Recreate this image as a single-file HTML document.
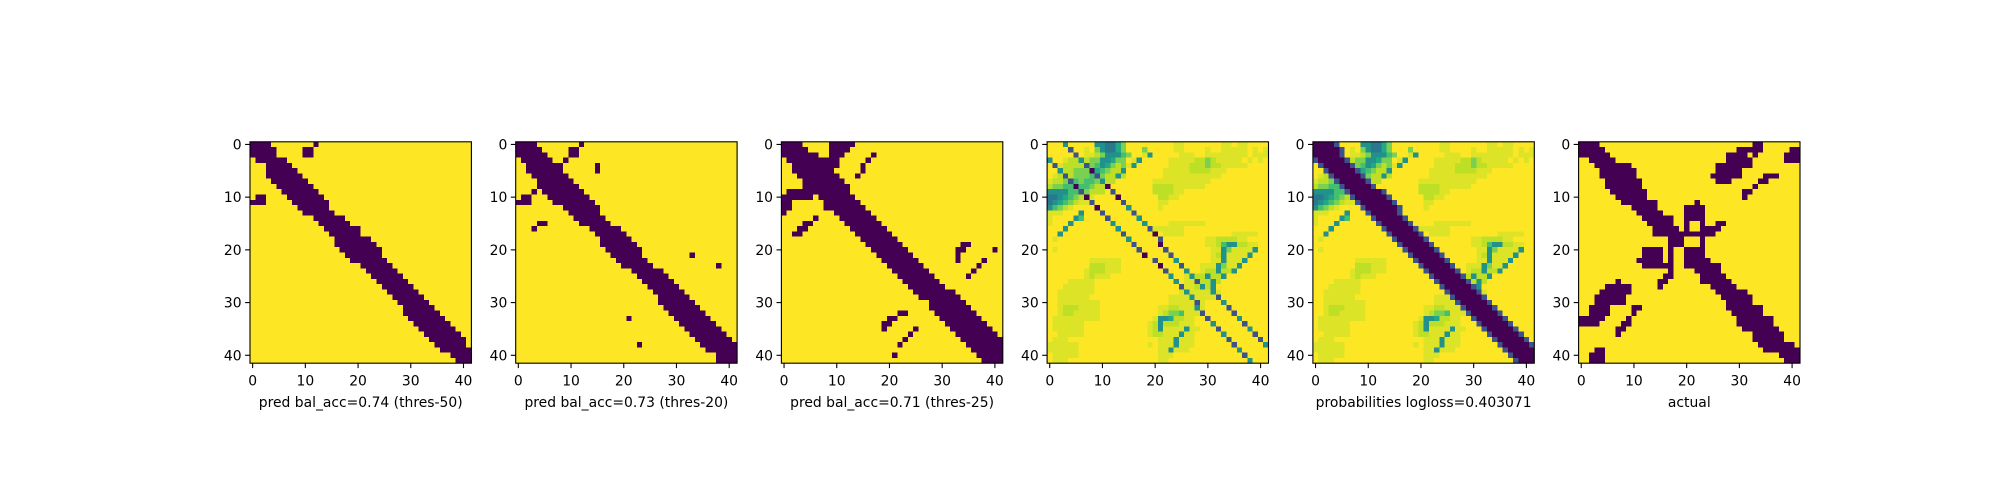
<!DOCTYPE html>
<html><head><meta charset="utf-8"><style>
html,body{margin:0;padding:0;background:#fff;}
svg{display:block;}
text{font-family:"DejaVu Sans","Liberation Sans",sans-serif;font-size:13.9px;fill:#000;}
</style></head><body>
<svg id="chart" width="2000" height="500" viewBox="0 0 2000 500" xmlns="http://www.w3.org/2000/svg"></svg>
<script>
// ---------- data ----------
const panelTitles = ["pred bal_acc=0.74 (thres-50)","pred bal_acc=0.73 (thres-20)","pred bal_acc=0.71 (thres-25)","probabilities logloss=0.403071","probabilities logloss=0.403071","actual"];
panelTitles[3] = "probabilities logloss=0.403071";
const xlabels = ["pred bal_acc=0.74 (thres-50)","pred bal_acc=0.73 (thres-20)","pred bal_acc=0.71 (thres-25)","","probabilities logloss=0.403071","actual"];
const tickValues = [0,10,20,30,40];
const tickLabels = ["0","10","20","30","40"];
const N = 42;

const p1Runs = [[[0,3],[12,12]],[[0,4],[10,11]],[[0,4],[10,11]],[[1,6]],[[3,7]],[[3,8]],[[3,9]],[[4,10]],[[5,11]],[[6,12]],[[7,13],[1,2]],[[8,14],[0,2]],[[9,14]],[[10,15]],[[12,17]],[[13,18]],[[14,20]],[[15,20]],[[16,22]],[[16,23]],[[17,24]],[[18,24]],[[19,25]],[[21,26]],[[22,27]],[[23,28]],[[24,29]],[[25,30]],[[26,31]],[[27,32]],[[28,33]],[[29,34]],[[29,35]],[[30,36]],[[31,37]],[[32,38]],[[33,39]],[[34,40]],[[35,40]],[[36,41]],[[38,41]],[[39,41]]];
const p2Runs = [[[0,3],[12,12]],[[0,4],[10,11]],[[0,5],[10,11]],[[1,6],[9,9]],[[2,8],[15,15]],[[2,8],[15,15]],[[3,9]],[[4,10]],[[4,11]],[[5,12],[3,3]],[[6,13],[1,2]],[[7,14],[0,2]],[[9,15]],[[10,15]],[[11,16]],[[12,17],[4,5]],[[14,19],[3,3]],[[15,20]],[[16,21]],[[16,22]],[[17,23]],[[18,23],[33,33]],[[19,24]],[[20,25],[38,38]],[[22,27]],[[23,28]],[[24,29]],[[25,30]],[[26,31]],[[27,32]],[[27,33]],[[28,34]],[[29,35]],[[30,36],[21,21]],[[31,37]],[[32,38]],[[33,39]],[[34,40]],[[35,41],[23,23]],[[36,41]],[[38,41]],[[38,41]]];
const p3Runs = [[[0,3],[9,13]],[[0,4],[9,12]],[[0,6],[9,11],[17,17]],[[1,10],[16,16]],[[2,10],[15,15]],[[2,9],[15,15]],[[3,10],[14,14]],[[4,11]],[[4,12]],[[1,12]],[[0,5],[7,13]],[[0,1],[8,14]],[[0,1],[8,15]],[[0,0],[10,16]],[[6,6],[11,17]],[[4,5],[12,18]],[[3,4],[13,19]],[[2,3],[14,20]],[[15,21]],[[16,22],[34,35]],[[17,23],[33,34],[40,40]],[[18,24],[33,33]],[[19,25],[33,33],[38,38]],[[20,26],[37,37]],[[21,27],[36,36]],[[22,28],[35,35]],[[23,29]],[[24,30]],[[25,32]],[[26,33]],[[28,34]],[[28,35]],[[22,23],[29,36]],[[20,21],[30,37]],[[19,20],[31,38]],[[19,19],[25,25],[32,39]],[[24,24],[33,40]],[[23,23],[34,41]],[[22,22],[35,41]],[[36,41]],[[21,21],[37,41]],[[38,41]]];
const p6Runs = [[[0,3],[33,34]],[[0,4],[30,34],[40,41]],[[0,5],[28,31],[33,33],[39,41]],[[2,6],[28,32],[39,41]],[[3,9],[26,32]],[[4,10],[26,30]],[[4,10],[25,30],[35,37]],[[5,11],[26,28],[34,35]],[[5,11],[33,33]],[[6,12],[31,32]],[[7,12],[31,31]],[[8,14],[22,22]],[[10,14],[20,23]],[[11,15],[20,23]],[[12,17],[20,23]],[[13,17],[20,20],[23,23],[26,27]],[[14,18],[20,20],[23,26]],[[14,25]],[[17,19],[23,23]],[[17,19],[23,23]],[[12,15],[17,17],[20,23]],[[12,15],[17,17],[20,23]],[[11,15],[17,17],[20,24]],[[12,17],[20,26]],[[17,17],[22,26]],[[16,17],[23,27]],[[7,7],[15,16],[23,28]],[[5,9],[15,15],[25,29]],[[4,9],[26,31]],[[3,8],[27,32]],[[3,8],[28,32]],[[2,5],[10,11],[28,34]],[[2,5],[10,10],[29,34]],[[0,4],[9,9],[30,36]],[[0,3],[8,9],[30,36]],[[7,8],[31,37]],[[7,7],[33,38]],[[33,38]],[[34,40]],[[3,4],[35,41]],[[2,4],[38,41]],[[2,4],[39,41]]];

// probability background (digit levels)
const levelValues = [0,0.25,0.4,0.5,0.6,0.7,0.8,0.9,0.95,1.0];
const probRows = [
"999899999332246999999999889999999889889",
"9999999896322469996999998899998998888898 98",
"999999988763335699839999988899888888889888 9",
"999877776633466983999998888877678888898989",
"998777766534676839999998888777677888889999",
"997776666456773999999988888777788899999999",
"987776665567737999999988888888888999999999",
"877665655677799999998888888888899999999999",
"766555556777999999997777888888999999999999",
"333355567779999999997777889999999999999999",
"223456778999999999999778899999999999999999",
"234567889999999999999889999999999999999999",
"356789999999999999999899999999999999999999",
"888999399999999999999999999999999999999999",
"899993599999999999999999999999999999999999",
"899939999999999999999998888888999999999999",
"999399999999999999998888889999999999999999",
"993999999999999999999988889999999998888899",
"989999999999999999999999999999887777889999",
"999999999999999999999999999999887533778899",
"989999999999999999999999999999988368888399",
"999999999999999999999999999999987388883999",
"999999998888889999999999999999988388839999",
"999999997778889999999999999998883688399999",
"999999987778889999999999999998773773999999",
"999999987888999999999999998877377399999999",
"999988888999999999999999998877737999999999",
"999888888999999999999999998877739999999999",
"998888888999999999999999988888888999999999",
"998888889999999999999998888888889999999999",
"998888888899999999999998888888999999999999",
"998777888899999999999887788888999999999999",
"998778888899999999999876658889999999999999",
"988888888899999999998334778899999999999999",
"988888899999999999987377788899999999999999",
"988888899999999999987388883889999999999999",
"998888899999999999987788838899999999999999",
"988899999999999999999888388899999999999999",
"888888999999999999989888388899999999999999",
"888888999999999999999883888999999999999999",
"988888999999999999999888999999999999999999",
"988899999999999999999889999999999999999999"
];

// panel 5 (probabilities): dark diagonal band per row
const p5Band = [[0,3],[0,4],[0,4],[1,5],[2,6],[3,7],[4,8],[5,9],[6,10],[7,12],[8,13],[9,14],[10,15],[11,15],[12,16],[13,17],[14,18],[15,19],[16,20],[17,21],[18,22],[19,23],[20,24],[21,25],[22,26],[23,27],[24,28],[25,29],[26,30],[27,31],[28,32],[29,33],[30,34],[31,35],[32,36],[33,37],[34,38],[35,39],[36,40],[37,41],[38,41],[39,41]];
const p5EdgeLevel = 1;

// panel 4: two dotted off-diagonal lines
const lineACols = [3,4,5,6,7,8,9,10,11,12,13,14,15,16,17,18,19,20,21,21,22,23,24,25,26,27,28,29,31,32,33,34,35,36,37,38,39,40,41]; // rows 0..38
const lineALevels = [3,1,1,3,1,0,1,3,0,1,0,1,3,1,3,3,1,0,1,0,1,1,3,1,3,3,1,3,3,1,3,1,1,3,1,3,1,1,3];
const lineBCols = [0,1,2,3,4,5,6,7,8,9,10,11,12,13,14,15,16,17,18,20,21,22,23,24,25,26,27,28,28,29,30,31,32,33,34,35,36,37,38]; // rows 3..41
const lineBLevels = [3,1,3,1,1,0,1,0,1,0,1,1,3,3,1,3,1,1,0,1,0,1,3,3,1,3,3,1,3,1,1,3,1,3,1,1,3,1,3];

// ---------- rendering ----------
const svg = document.getElementById('chart');
const NS = 'http://www.w3.org/2000/svg';
const axLeft = [250, 515.7, 781.4, 1047.1, 1312.9, 1578.6];
const axTop = 141.8, axSize = 221.4, cs = axSize / N;
const vir = ["#440154","#482475","#414487","#355f8d","#2a788e","#21918c","#22a884","#44bf70","#7ad151","#bddf26","#fde725"];
function hex(h){return [parseInt(h.substr(1,2),16),parseInt(h.substr(3,2),16),parseInt(h.substr(5,2),16)];}
function viridis(t){
  t=Math.max(0,Math.min(1,t)); const p=t*10; const i=Math.min(9,Math.floor(p)); const f=p-i;
  const a=hex(vir[i]), b=hex(vir[i+1]);
  return 'rgb('+a.map((v,k)=>Math.round(v+(b[k]-v)*f)).join(',')+')';
}
function xScale(p,c){return axLeft[p]+c*cs;}
function yScale(r){return axTop+r*cs;}

function makeGrid(fill){const g=[];for(let r=0;r<N;r++){g.push(new Array(N).fill(fill));}return g;}
function fromRuns(runs){const g=makeGrid(1);runs.forEach((row,r)=>row.forEach(([s,e])=>{for(let c=s;c<=e;c++)g[r][c]=0;}));return g;}
function probBase(){const g=makeGrid(1);probRows.forEach((str,r)=>{const s=str.replace(/ /g,'');for(let c=0;c<N;c++){const d=s[c]!==undefined?+s[c]:9;g[r][c]=levelValues[d];}});return g;}

const grids = [];
grids.push(fromRuns(p1Runs));
grids.push(fromRuns(p2Runs));
grids.push(fromRuns(p3Runs));
const g4 = probBase();
lineACols.forEach((c,i)=>{g4[i][c]=levelValues[lineALevels[i]];});
lineBCols.forEach((c,i)=>{g4[i+3][c]=levelValues[lineBLevels[i]];});
grids.push(g4);
const g5 = probBase();
p5Band.forEach(([s,e],r)=>{for(let c=s;c<=e;c++)g5[r][c]=0; if(s-1>=0)g5[r][s-1]=levelValues[p5EdgeLevel]; if(e+1<N)g5[r][e+1]=levelValues[p5EdgeLevel];});
grids.push(g5);
grids.push(fromRuns(p6Runs));

const names=['pred-thres-50','pred-thres-20','pred-thres-25','probabilities-raw','probabilities','actual'];
const labels=["pred bal_acc=0.74 (thres-50)","pred bal_acc=0.73 (thres-20)","pred bal_acc=0.71 (thres-25)","","probabilities logloss=0.403071","actual"];

grids.forEach((g,p)=>{
  const grp=document.createElementNS(NS,'g');
  
  
  svg.appendChild(grp);
  const cells=document.createElementNS(NS,'g');
  
  
  cells.setAttribute('shape-rendering','crispEdges');
  grp.appendChild(cells);
  for(let r=0;r<N;r++)for(let c=0;c<N;c++){
    const rc=document.createElementNS(NS,'rect');
    
    
    rc.setAttribute('x',xScale(p,c).toFixed(2));
    rc.setAttribute('y',yScale(r).toFixed(2));
    rc.setAttribute('width',(cs+0.4).toFixed(2));
    rc.setAttribute('height',(cs+0.4).toFixed(2));
    rc.setAttribute('fill',viridis(g[r][c]));
    cells.appendChild(rc);
  }
  const fr=document.createElementNS(NS,'rect');
  
  
  fr.setAttribute('x',axLeft[p]);fr.setAttribute('y',axTop);
  fr.setAttribute('width',axSize);fr.setAttribute('height',axSize);
  fr.setAttribute('fill','none');fr.setAttribute('stroke','#000');fr.setAttribute('stroke-width','1.1');
  grp.appendChild(fr);
  tickValues.forEach((v,i)=>{
    const x=xScale(p,v+0.5), yb=axTop+axSize;
    const t=document.createElementNS(NS,'line');
    
    
    t.setAttribute('x1',x);t.setAttribute('x2',x);t.setAttribute('y1',yb);t.setAttribute('y2',yb+4.9);
    t.setAttribute('stroke','#000');t.setAttribute('stroke-width','1.1');
    grp.appendChild(t);
    const tx=document.createElementNS(NS,'text');
    
    
    tx.setAttribute('x',x);tx.setAttribute('y',yb+22.5);tx.setAttribute('text-anchor','middle');
    tx.textContent=tickLabels[i];grp.appendChild(tx);
    const y=yScale(v+0.5);
    const ty=document.createElementNS(NS,'line');
    
    
    ty.setAttribute('x1',axLeft[p]-4.9);ty.setAttribute('x2',axLeft[p]);ty.setAttribute('y1',y);ty.setAttribute('y2',y);
    ty.setAttribute('stroke','#000');ty.setAttribute('stroke-width','1.1');
    grp.appendChild(ty);
    const tyl=document.createElementNS(NS,'text');
    
    
    tyl.setAttribute('x',axLeft[p]-8.4);tyl.setAttribute('y',y+5);tyl.setAttribute('text-anchor','end');
    tyl.textContent=tickLabels[i];grp.appendChild(tyl);
  });
  if(labels[p]){
    const xl=document.createElementNS(NS,'text');
    
    
    xl.setAttribute('x',axLeft[p]+axSize/2);xl.setAttribute('y',axTop+axSize+44);xl.setAttribute('text-anchor','middle');
    xl.textContent=labels[p];grp.appendChild(xl);
  }
});
</script>
</body></html>
